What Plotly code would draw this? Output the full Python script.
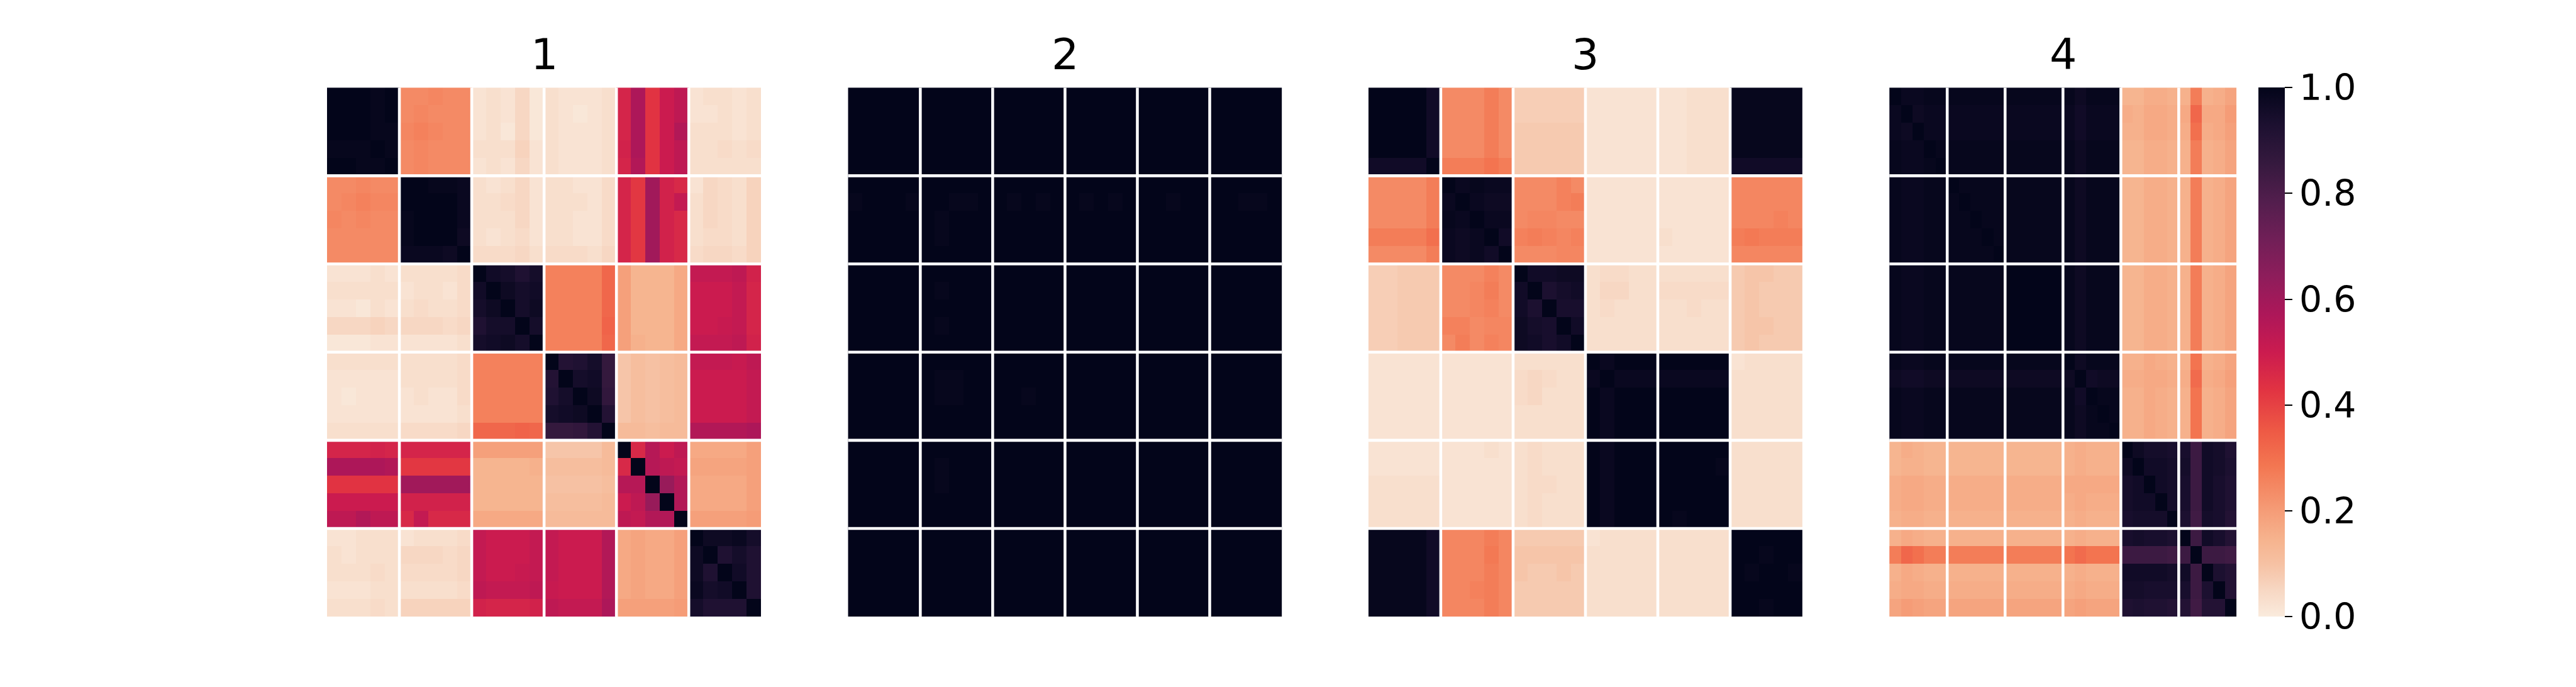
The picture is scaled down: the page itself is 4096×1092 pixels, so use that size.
import plotly.graph_objects as go

# ---------------- data (values in percent, 0..100) ----------------
panel_titles = ["1", "2", "3", "4"]
cbar_tickvals = [0.0, 0.2, 0.4, 0.6, 0.8, 1.0]
cbar_ticktext = ["0.0", "0.2", "0.4", "0.6", "0.8", "1.0"]

panel1_pct = [
    [100,100,100,99,100, 24,24,25,24,24, 2,3,2,5,1, 3,2,2,2,3, 47,57,43,50,53, 2,3,3,2,3],
    [100,100,100,99,100, 24,25,24,24,24, 2,3,2,5,1, 3,2,1,2,3, 47,57,43,50,53, 2,2,3,2,3],
    [100,100,100,99,99, 25,26,25,24,24, 2,3,1,5,1, 3,2,2,2,3, 47,57,43,50,56, 3,3,3,2,3],
    [99,99,99,100,99, 24,25,24,24,24, 3,3,3,6,2, 3,2,2,2,3, 48,57,43,50,53, 3,3,4,3,4],
    [100,100,99,99,100, 24,25,24,24,24, 2,3,2,5,2, 3,2,2,2,3, 47,56,43,50,53, 3,3,3,3,3],
    [24,24,25,24,24, 100,100,99,99,98, 3,2,3,5,2, 3,3,2,2,4, 47,42,60,48,46, 2,5,4,3,6],
    [24,25,26,25,25, 100,100,100,100,98, 3,3,4,5,2, 3,3,3,2,4, 47,42,60,48,52, 3,5,4,3,6],
    [25,24,25,24,24, 99,100,100,100,98, 3,3,3,5,2, 3,3,2,2,4, 47,42,60,48,46, 3,5,4,3,6],
    [24,24,24,24,24, 99,100,100,100,97, 3,2,3,4,2, 3,3,2,2,4, 47,42,60,48,46, 3,4,4,3,6],
    [24,24,24,24,24, 98,98,98,97,100, 4,4,4,5,3, 4,4,4,3,5, 47,42,60,48,46, 4,5,5,4,6],
    [2,2,2,3,2, 3,3,3,3,4, 100,96,95,92,95, 26,26,26,26,32, 19,14,14,14,17, 52,52,52,53,48],
    [3,3,3,3,3, 2,3,3,2,4, 96,100,97,95,96, 26,26,26,26,32, 19,14,14,14,17, 50,50,50,52,47],
    [2,2,1,3,2, 3,4,3,3,4, 95,97,100,95,97, 26,26,26,26,32, 19,14,14,14,17, 50,50,50,52,47],
    [5,5,5,6,5, 5,5,5,4,5, 92,95,95,100,95, 26,26,26,26,33, 19,14,14,14,17, 50,50,51,52,47],
    [1,1,1,2,2, 2,2,2,2,3, 95,96,97,95,100, 26,26,26,26,32, 19,15,14,14,17, 52,52,52,53,48],
    [3,3,3,3,3, 3,3,3,3,4, 26,26,26,26,26, 100,91,92,95,86, 9,11,10,11,12, 52,52,52,51,53],
    [2,2,2,2,2, 3,3,3,3,4, 26,26,26,26,26, 91,100,95,96,86, 9,11,10,11,12, 50,50,50,50,52],
    [2,1,2,2,2, 2,3,2,2,4, 26,26,26,26,26, 92,95,100,97,87, 9,11,10,11,12, 50,50,50,50,52],
    [2,2,2,2,2, 2,2,2,2,3, 26,26,26,26,26, 95,96,97,100,91, 9,11,10,11,12, 50,50,50,50,52],
    [3,3,3,3,3, 4,4,4,4,5, 32,32,32,33,32, 86,86,87,91,100, 12,12,11,12,12, 56,56,56,56,57],
    [47,47,47,48,47, 47,47,47,47,47, 19,19,19,19,19, 9,9,9,9,12, 100,46,55,50,53, 17,17,17,17,19],
    [57,57,57,57,56, 42,42,42,42,42, 14,14,14,14,15, 11,11,11,11,12, 46,100,55,53,52, 18,18,18,18,19],
    [43,43,43,43,43, 60,60,60,60,60, 14,14,14,14,14, 10,10,10,10,11, 55,55,100,62,56, 17,17,17,17,19],
    [50,50,50,50,50, 48,48,48,48,48, 14,14,14,14,14, 11,11,11,11,12, 50,53,62,100,56, 17,17,17,17,19],
    [53,53,56,53,53, 46,52,46,46,46, 17,17,17,17,17, 12,12,12,12,12, 53,52,56,56,100, 19,19,19,19,20],
    [2,2,3,3,3, 2,3,3,3,4, 52,50,50,50,52, 52,50,50,50,56, 17,18,17,17,19, 100,97,97,98,95],
    [3,2,3,3,3, 5,5,5,4,5, 52,50,50,50,52, 52,50,50,50,56, 17,18,17,17,19, 97,100,92,95,92],
    [3,3,3,4,3, 4,4,4,4,5, 52,50,50,51,52, 52,50,50,50,56, 17,18,17,17,19, 97,92,100,96,92],
    [2,2,2,3,3, 3,3,3,3,4, 53,52,52,52,53, 51,50,50,50,56, 17,18,17,17,19, 98,95,96,100,92],
    [3,3,3,4,3, 6,6,6,6,6, 48,47,47,47,48, 53,52,52,52,57, 19,19,19,19,20, 95,92,92,92,100],
]

panel2_pct = [
    [100,100,100,100,100, 100,100,100,100,100, 100,100,100,100,100, 100,100,100,100,100, 100,100,100,100,100, 100,100,100,100,100],
    [100,100,100,100,100, 100,100,100,100,100, 100,100,100,100,100, 100,100,100,100,100, 100,100,100,100,100, 100,100,100,100,100],
    [100,100,100,100,100, 100,100,100,100,100, 100,100,100,100,100, 100,100,100,100,100, 100,100,100,100,100, 100,100,100,100,100],
    [100,100,100,100,100, 100,100,100,100,100, 100,100,100,100,100, 100,100,100,100,100, 100,100,100,100,100, 100,100,100,100,100],
    [100,100,100,100,100, 100,100,100,100,100, 100,100,100,100,100, 100,100,100,100,100, 100,100,100,100,100, 100,100,100,100,100],
    [100,100,100,100,100, 100,100,100,100,100, 100,100,100,100,100, 100,100,100,100,100, 100,100,100,100,100, 100,100,100,100,100],
    [99,100,100,100,99, 100,100,99,99,100, 100,99,100,99,100, 100,99,100,99,100, 100,100,99,100,100, 100,100,99,99,100],
    [100,100,100,100,100, 100,99,100,100,100, 100,100,100,100,100, 100,100,100,100,100, 100,100,100,100,100, 100,100,100,100,100],
    [100,100,100,100,100, 100,99,100,100,100, 100,100,100,100,100, 100,100,100,100,100, 100,100,100,100,100, 100,100,100,100,100],
    [100,100,100,100,100, 100,100,100,100,100, 100,100,100,100,100, 100,100,100,100,100, 100,100,100,100,100, 100,100,100,100,100],
    [100,100,100,100,100, 100,100,100,100,100, 100,100,100,100,100, 100,100,100,100,100, 100,100,100,100,100, 100,100,100,100,100],
    [100,100,100,100,100, 100,99,100,100,100, 100,100,100,100,100, 100,100,100,100,100, 100,100,100,100,100, 100,100,100,100,100],
    [100,100,100,100,100, 100,100,100,100,100, 100,100,100,100,100, 100,100,100,100,100, 100,100,100,100,100, 100,100,100,100,100],
    [100,100,100,100,100, 100,99,100,100,100, 100,100,100,100,100, 100,100,100,100,100, 100,100,100,100,100, 100,100,100,100,100],
    [100,100,100,100,100, 100,100,100,100,100, 100,100,100,100,100, 100,100,100,100,100, 100,100,100,100,100, 100,100,100,100,100],
    [100,100,100,100,100, 100,100,100,100,100, 100,100,100,100,100, 100,100,100,100,100, 100,100,100,100,100, 100,100,100,100,100],
    [100,100,100,100,100, 100,99,99,100,100, 100,100,100,100,100, 100,100,100,100,100, 100,100,100,100,100, 100,100,100,100,100],
    [100,100,100,100,100, 100,99,99,100,100, 100,100,99,100,100, 100,100,100,100,100, 100,100,100,100,100, 100,100,100,100,100],
    [100,100,100,100,100, 100,100,100,100,100, 100,100,100,100,100, 100,100,100,100,100, 100,100,100,100,100, 100,100,100,100,100],
    [100,100,100,100,100, 100,100,100,100,100, 100,100,100,100,100, 100,100,100,100,100, 100,100,100,100,100, 100,100,100,100,100],
    [100,100,100,100,100, 100,100,100,100,100, 100,100,100,100,100, 100,100,100,100,100, 100,100,100,100,100, 100,100,100,100,100],
    [100,100,100,100,100, 100,99,100,100,100, 100,100,100,100,100, 100,100,100,100,100, 100,100,100,100,100, 100,100,100,100,100],
    [100,100,100,100,100, 100,99,100,100,100, 100,100,100,100,100, 100,100,100,100,100, 100,100,100,100,100, 100,100,100,100,100],
    [100,100,100,100,100, 100,100,100,100,100, 100,100,100,100,100, 100,100,100,100,100, 100,100,100,100,100, 100,100,100,100,100],
    [100,100,100,100,100, 100,100,100,100,100, 100,100,100,100,100, 100,100,100,100,100, 100,100,100,100,100, 100,100,100,100,100],
    [100,100,100,100,100, 100,100,100,100,100, 100,100,100,100,100, 100,100,100,100,100, 100,100,100,100,100, 100,100,100,100,100],
    [100,100,100,100,100, 100,100,100,100,100, 100,100,100,100,100, 100,100,100,100,100, 100,100,100,100,100, 100,100,100,100,100],
    [100,100,100,100,100, 100,100,100,100,100, 100,100,100,100,100, 100,100,100,100,100, 100,100,100,100,100, 100,100,100,100,100],
    [100,100,100,100,100, 100,100,100,100,100, 100,100,100,100,100, 100,100,100,100,100, 100,100,100,100,100, 100,100,100,100,100],
    [100,100,100,100,100, 100,100,100,100,100, 100,100,100,100,100, 100,100,100,100,100, 100,100,100,100,100, 100,100,100,100,100],
]

panel3_pct = [
    [100,100,100,100,96, 24,24,24,27,24, 7,7,7,7,7, 2,2,2,2,2, 2,2,3,3,3, 99,99,99,99,99],
    [100,100,100,100,96, 24,24,24,27,24, 7,7,7,7,7, 2,2,2,2,2, 2,2,3,3,3, 99,99,99,99,99],
    [100,100,100,100,96, 24,24,24,27,24, 8,8,8,8,8, 2,2,2,2,2, 2,2,3,3,3, 99,99,99,99,99],
    [100,100,100,100,96, 24,24,24,27,24, 8,8,8,8,8, 2,2,2,2,2, 2,2,3,3,3, 99,99,99,99,99],
    [96,96,96,96,100, 27,27,27,29,27, 8,8,8,8,8, 2,2,2,2,2, 2,2,3,3,3, 96,96,96,96,96],
    [24,24,24,24,27, 100,98,99,98,98, 24,24,24,26,24, 2,2,2,2,2, 2,2,2,2,2, 25,25,25,25,25],
    [24,24,24,24,27, 98,100,98,97,97, 24,24,24,26,27, 2,2,2,2,2, 2,2,2,2,2, 25,25,25,25,25],
    [24,24,24,24,27, 99,98,100,98,98, 24,25,25,24,24, 2,2,2,2,2, 2,2,2,2,2, 25,25,25,26,25],
    [27,27,27,27,30, 98,97,98,100,96, 26,27,26,25,26, 2,2,2,2,2, 3,2,2,2,2, 27,28,27,27,27],
    [24,24,24,24,27, 98,97,98,96,100, 24,24,24,25,25, 2,2,2,2,2, 2,2,2,2,2, 25,25,25,25,25],
    [7,7,8,8,8, 24,24,24,26,24, 100,96,96,97,97, 3,4,4,3,3, 3,3,3,3,3, 8,9,9,8,8],
    [7,7,8,8,8, 24,24,25,27,24, 96,100,93,95,96, 3,5,5,3,3, 4,4,4,4,4, 8,9,8,8,8],
    [7,7,8,8,8, 24,24,25,26,24, 96,93,100,94,94, 3,4,3,3,3, 3,3,4,3,3, 8,9,8,8,8],
    [7,7,8,8,8, 26,26,24,25,25, 97,95,94,100,96, 3,3,3,3,3, 3,3,3,3,3, 8,9,9,8,8],
    [7,7,8,8,8, 24,27,24,26,25, 97,96,94,96,100, 3,3,3,3,3, 3,3,3,3,3, 8,9,8,8,8],
    [2,2,2,2,2, 2,2,2,2,2, 3,3,3,3,3, 100,98,100,100,100, 100,100,100,100,100, 2,3,3,3,3],
    [2,2,2,2,2, 2,2,2,2,2, 4,5,4,3,3, 98,100,98,98,98, 98,98,98,98,98, 3,3,3,3,3],
    [2,2,2,2,2, 2,2,2,2,2, 4,5,3,3,3, 100,98,100,100,100, 100,100,100,100,100, 3,3,3,3,3],
    [2,2,2,2,2, 2,2,2,2,2, 3,3,3,3,3, 100,98,100,100,100, 100,100,100,100,100, 3,3,3,3,3],
    [2,2,2,2,2, 2,2,2,2,2, 3,3,3,3,3, 100,98,100,100,100, 100,100,100,100,100, 3,3,3,3,3],
    [2,2,2,2,2, 2,2,2,3,2, 3,4,3,3,3, 100,98,100,100,100, 100,100,100,100,100, 3,3,3,3,3],
    [2,2,2,2,2, 2,2,2,2,2, 3,4,3,3,3, 100,98,100,100,100, 100,100,100,100,99, 3,3,3,3,3],
    [3,3,3,3,3, 2,2,2,2,2, 3,4,4,3,3, 100,98,100,100,100, 100,100,100,100,100, 3,3,3,3,3],
    [3,3,3,3,3, 2,2,2,2,2, 3,4,3,3,3, 100,98,100,100,100, 100,100,100,100,100, 3,3,3,3,3],
    [3,3,3,3,3, 2,2,2,2,2, 3,4,3,3,3, 100,98,100,100,100, 100,99,100,100,100, 3,3,3,3,3],
    [99,99,99,99,96, 25,25,25,27,25, 8,8,8,8,8, 2,3,3,3,3, 3,3,3,3,3, 100,100,100,100,100],
    [99,99,99,99,96, 25,25,25,28,25, 9,9,9,9,9, 3,3,3,3,3, 3,3,3,3,3, 100,100,99,100,100],
    [99,99,99,99,96, 25,25,25,27,25, 9,8,8,9,8, 3,3,3,3,3, 3,3,3,3,3, 100,99,100,100,99],
    [99,99,99,99,96, 25,25,26,27,25, 8,8,8,8,8, 3,3,3,3,3, 3,3,3,3,3, 100,100,100,100,100],
    [99,99,99,99,96, 25,25,25,27,25, 8,8,8,8,8, 3,3,3,3,3, 3,3,3,3,3, 100,100,99,100,100],
]

panel4_pct = [
    [100,98,98,99,99, 99,99,99,99,99, 99,99,99,99,99, 99,97,99,99,99, 14,14,16,16,15, 15,27,15,16,18],
    [98,100,97,98,98, 98,98,98,98,98, 98,98,98,98,98, 98,96,98,98,98, 16,15,17,17,16, 17,32,17,17,20],
    [98,97,100,98,98, 98,98,98,98,98, 98,98,98,98,98, 98,96,98,98,98, 15,15,17,17,16, 16,30,16,17,19],
    [99,98,98,100,99, 99,99,99,99,99, 99,99,99,99,99, 99,97,99,99,99, 14,14,16,16,15, 15,27,15,16,18],
    [99,98,98,99,100, 99,99,99,99,99, 99,99,99,99,99, 99,97,99,99,99, 14,14,16,16,15, 15,27,15,16,18],
    [99,98,98,99,99, 100,99,99,99,99, 99,99,99,99,99, 99,97,99,99,99, 14,14,16,16,15, 15,27,15,16,18],
    [99,98,98,99,99, 99,100,99,99,99, 99,99,99,99,99, 99,97,99,99,99, 14,14,16,16,15, 15,27,15,16,18],
    [99,98,98,99,99, 99,99,100,99,99, 99,99,99,99,99, 99,97,99,99,99, 14,14,16,16,15, 15,27,15,16,18],
    [99,98,98,99,99, 99,99,99,100,99, 99,99,99,99,99, 99,97,99,99,99, 14,14,16,16,15, 15,27,15,16,18],
    [99,98,98,99,99, 99,99,99,99,100, 99,99,99,99,99, 99,97,99,99,99, 14,14,16,16,15, 15,27,15,16,18],
    [99,98,98,99,99, 99,99,99,99,99, 100,100,100,100,100, 99,97,99,99,99, 14,14,16,16,15, 15,27,15,16,18],
    [99,98,98,99,99, 99,99,99,99,99, 100,100,100,100,100, 99,97,99,99,99, 14,14,16,16,15, 15,27,15,16,18],
    [99,98,98,99,99, 99,99,99,99,99, 100,100,100,100,100, 99,97,99,99,99, 14,14,16,16,15, 15,27,15,16,18],
    [99,98,98,99,99, 99,99,99,99,99, 100,100,100,100,100, 99,97,99,99,99, 14,14,16,16,15, 15,27,15,16,18],
    [99,98,98,99,99, 99,99,99,99,99, 100,100,100,100,100, 99,97,99,99,99, 14,14,16,16,15, 15,27,15,16,18],
    [99,98,98,99,99, 99,99,99,99,99, 99,99,99,99,99, 100,97,99,99,99, 15,15,17,16,15, 15,29,15,16,18],
    [97,96,96,97,97, 97,97,97,97,97, 97,97,97,97,97, 97,100,96,97,97, 16,16,17,17,16, 16,31,16,17,19],
    [99,98,98,99,99, 99,99,99,99,99, 99,99,99,99,99, 99,96,100,99,99, 15,15,17,16,15, 15,29,15,16,18],
    [99,98,98,99,99, 99,99,99,99,99, 99,99,99,99,99, 99,97,99,100,99, 15,15,17,16,15, 15,29,15,16,18],
    [99,98,98,99,99, 99,99,99,99,99, 99,99,99,99,99, 99,97,99,99,100, 15,15,17,16,15, 15,29,15,16,18],
    [14,16,15,14,14, 14,14,14,14,14, 14,14,14,14,14, 15,16,15,15,15, 100,97,95,95,94, 94,84,96,95,92],
    [14,15,15,14,14, 14,14,14,14,14, 14,14,14,14,14, 15,16,15,15,15, 97,100,96,96,95, 95,84,96,95,93],
    [16,17,17,16,16, 16,16,16,16,16, 16,16,16,16,16, 17,17,17,17,17, 95,96,100,96,95, 94,84,96,94,92],
    [16,17,17,16,16, 16,16,16,16,16, 16,16,16,16,16, 16,17,16,16,16, 95,96,96,100,95, 94,84,96,94,92],
    [15,16,16,15,15, 15,15,15,15,15, 15,15,15,15,15, 15,16,15,15,15, 94,95,95,95,100, 93,83,95,94,91],
    [15,17,16,15,15, 15,15,15,15,15, 15,15,15,15,15, 15,16,15,15,15, 94,95,94,94,93, 100,84,96,94,91],
    [27,32,30,27,27, 27,27,27,27,27, 27,27,27,27,27, 29,31,29,29,29, 84,84,84,84,83, 84,100,84,84,83],
    [15,17,16,15,15, 15,15,15,15,15, 15,15,15,15,15, 15,16,15,15,15, 96,96,96,96,95, 96,84,100,93,91],
    [16,17,17,16,16, 16,16,16,16,16, 16,16,16,16,16, 16,17,16,16,16, 95,95,94,94,94, 94,84,93,100,91],
    [18,20,19,18,18, 18,18,18,18,18, 18,18,18,18,18, 18,19,18,18,18, 92,93,92,92,91, 91,83,91,91,100],
]

panels = [panel1_pct, panel2_pct, panel3_pct, panel4_pct]

# ---------------- style / layout ----------------
W, H = 4096, 1092
REF_W, REF_H = 5400, 1440
S = W / REF_W

# seaborn "rocket_r" approximation
rocket_r = [
    [0.000, "#faebdd"], [0.050, "#f7d7c3"], [0.100, "#f6c1a3"], [0.143, "#f6b48f"],
    [0.200, "#f59c77"], [0.286, "#f37651"], [0.350, "#ee5a45"], [0.429, "#e13342"],
    [0.500, "#cb1b4f"], [0.571, "#ad1759"], [0.643, "#8e1d5b"], [0.714, "#701f57"],
    [0.786, "#521e4d"], [0.857, "#35193e"], [0.930, "#1c1030"], [1.000, "#03051a"],
]

# axes extents in reference pixels
x_extents = [(675, 1585), (1767, 2677), (2858, 3768), (3950, 4678)]
y_top, y_bot = 173, 1282
cbar_left, cbar_right = 4724, 4779

ydom = [1 - y_bot / REF_H, 1 - y_top / REF_H]
FONT = "DejaVu Sans"

fig = go.Figure()
layout_axes = {}
shapes = []
annotations = []
n = 30
centers = [i + 0.5 for i in range(n)]
for i, (mat, (x0, x1), title) in enumerate(zip(panels, x_extents, panel_titles)):
    sfx = "" if i == 0 else str(i + 1)
    z = [[v / 100.0 for v in row] for row in mat]
    fig.add_trace(go.Heatmap(
        z=z, x=centers, y=centers, coloraxis="coloraxis",
        xaxis="x" + sfx, yaxis="y" + sfx, zsmooth=False, hoverinfo="skip",
    ))
    layout_axes["xaxis" + sfx] = dict(domain=[x0 / REF_W, x1 / REF_W], range=[0, n],
                                      visible=False, anchor="y" + sfx, fixedrange=True)
    layout_axes["yaxis" + sfx] = dict(domain=ydom, range=[n, 0], visible=False,
                                      anchor="x" + sfx, fixedrange=True)
    for k in range(5, n, 5):
        shapes.append(dict(type="line", xref="x" + sfx, yref="y" + sfx, x0=k, x1=k, y0=0, y1=n,
                           line=dict(color="white", width=6 * S), layer="above"))
        shapes.append(dict(type="line", xref="x" + sfx, yref="y" + sfx, x0=0, x1=n, y0=k, y1=k,
                           line=dict(color="white", width=6 * S), layer="above"))
    annotations.append(dict(text=title, xref="paper", yref="paper",
                            x=(x0 + x1) / 2 / REF_W, y=1 - 103.5 / REF_H,
                            xanchor="center", yanchor="middle", showarrow=False,
                            font=dict(family=FONT, size=90 * S, color="black")))

fig.update_layout(
    width=W, height=H,
    margin=dict(l=0, r=0, t=0, b=0),
    paper_bgcolor="white", plot_bgcolor="white",
    showlegend=False,
    shapes=shapes, annotations=annotations,
    coloraxis=dict(
        cmin=0, cmax=1, colorscale=rocket_r,
        colorbar=dict(
            x=cbar_left / REF_W, xanchor="left", xref="paper",
            y=1 - (y_top + y_bot) / 2 / REF_H, yanchor="middle",
            len=(y_bot - y_top) / REF_H, lenmode="fraction",
            thickness=(cbar_right - cbar_left) * S, thicknessmode="pixels",
            outlinewidth=0, xpad=0, ypad=0,
            ticks="outside", ticklen=16 * S, tickwidth=1.5, tickcolor="black",
            tickvals=cbar_tickvals, ticktext=cbar_ticktext,
            tickfont=dict(family=FONT, size=75 * S, color="black"),
        ),
    ),
    **layout_axes,
)

fig.write_html("out.html")
